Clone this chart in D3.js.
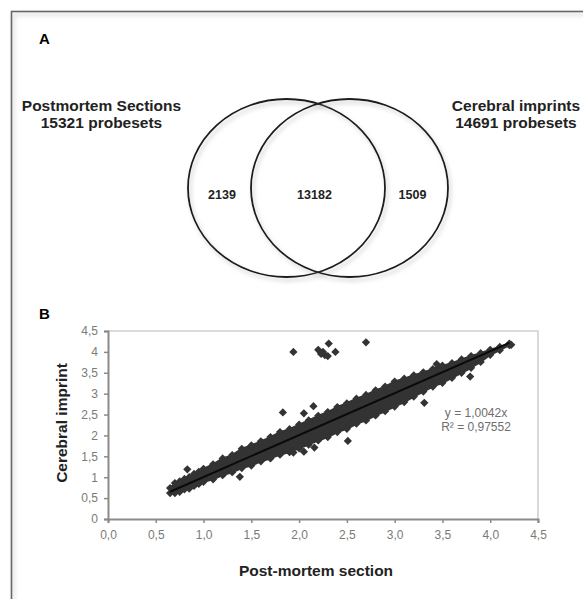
<!DOCTYPE html>
<html>
<head>
<meta charset="utf-8">
<script src="https://cdn.jsdelivr.net/npm/d3@7"></script>
<style>
  body { margin: 0; background: #fff; }
  text { font-family: "Liberation Sans", Arial, sans-serif; }
</style>
</head>
<body>
<div id="chart"></div>
<script>
// Venn data
var vennNames = ["Postmortem Sections", "Cerebral imprints"];
var vennTotals = ["15321 probesets", "14691 probesets"];
var vennCounts = [2139, 13182, 1509];   // only left, both, only right

// scatter: axis ticks
var xTicks = [0, 0.5, 1, 1.5, 2, 2.5, 3, 3.5, 4, 4.5];
var xTickLabels = ["0,0", "0,5", "1,0", "1,5", "2,0", "2,5", "3,0", "3,5", "4,0", "4,5"];
var yTicks = [0, 0.5, 1, 1.5, 2, 2.5, 3, 3.5, 4, 4.5];
var yTickLabels = ["0", "0,5", "1", "1,5", "2", "2,5", "3", "3,5", "4", "4,5"];

// dense cloud of probesets: upper / lower edge of the band
var bandX = [0.65, 0.7, 0.75, 0.8, 0.85, 0.9, 0.95, 1.0, 1.1, 1.2, 1.3, 1.4, 1.5, 1.6, 1.7, 1.8, 1.9, 2.0, 2.1, 2.2,
             2.3, 2.4, 2.5, 2.6, 2.7, 2.8, 2.9, 3.0, 3.1, 3.2, 3.3, 3.4, 3.5, 3.6, 3.7, 3.8, 3.9, 4.0, 4.1, 4.2];
var bandUpper = [0.74, 0.86, 0.90, 0.96, 1.00, 1.08, 1.13, 1.20, 1.31, 1.45, 1.53, 1.68, 1.76, 1.86, 1.96, 2.08, 2.15, 2.26, 2.36, 2.47,
                 2.56, 2.68, 2.77, 2.88, 2.97, 3.08, 3.17, 3.29, 3.36, 3.44, 3.51, 3.59, 3.67, 3.73, 3.82, 3.90, 3.97, 4.05, 4.12, 4.20];
var bandLower = [0.62, 0.62, 0.65, 0.71, 0.73, 0.79, 0.84, 0.89, 0.95, 1.05, 1.12, 1.22, 1.28, 1.38, 1.45, 1.54, 1.60, 1.69, 1.78, 1.88,
                 1.96, 2.08, 2.16, 2.28, 2.36, 2.48, 2.58, 2.69, 2.80, 2.93, 3.05, 3.17, 3.26, 3.38, 3.50, 3.62, 3.76, 3.93, 4.04, 4.16];

// single points away from the band
var outX = [1.94, 2.20, 2.23, 2.27, 2.30, 2.25, 2.31, 2.38, 2.70, 3.79, 3.31, 2.51, 1.83, 2.15, 2.05, 1.38, 0.83, 3.44, 2.16, 2.05, 1.94, 4.22];
var outY = [4.00, 4.05, 3.95, 3.92, 3.90, 4.00, 4.20, 4.00, 4.23, 3.41, 2.78, 1.87, 2.55, 2.70, 2.53, 1.01, 1.19, 3.71, 1.71, 1.61, 1.59, 4.17];

// linear trend through origin
var slope = 1.0042;
var trendX = [0.65, 4.2];
var eqLines = ["y = 1,0042x", "R\u00b2 = 0,97552"];

var svg = d3.select("#chart")
    .append("svg")
    .attr("width", 583)
    .attr("height", 599);

var defs = svg.append("defs");
var shadow = defs.append("filter").attr("id", "shadow")
    .attr("x", "-20%").attr("y", "-20%").attr("width", "140%").attr("height", "140%");
shadow.append("feDropShadow")
    .attr("dx", 2).attr("dy", 3).attr("stdDeviation", 2)
    .attr("flood-color", "#999").attr("flood-opacity", 0.55);

// outer frame (only top and left visible)
svg.append("rect")
    .attr("x", 11.5).attr("y", 11.5)
    .attr("width", 640).attr("height", 640)
    .attr("fill", "none")
    .attr("stroke", "#666")
    .attr("stroke-width", 1.6)
    .attr("filter", "url(#shadow)");

svg.append("text").attr("x", 39).attr("y", 44)
    .style("font-size", "15px").style("font-weight", "bold").text("A");
svg.append("text").attr("x", 39).attr("y", 319)
    .style("font-size", "15px").style("font-weight", "bold").text("B");

// ---------- A: Venn ----------
var venn = svg.append("g");
var cy = 188, rx = 98.5, ry = 89;
var cxs = [286.5, 349.5];

venn.selectAll("ellipse")
    .data(vennNames)
    .enter().append("ellipse")
    .attr("cx", function (d, i) { return cxs[i]; })
    .attr("cy", cy)
    .attr("rx", rx)
    .attr("ry", ry)
    .attr("fill", "none")
    .attr("stroke", "#1a1a1a")
    .attr("stroke-width", 1.8)
    .attr("filter", "url(#shadow)");

var countX = [222, 314.5, 412.5];
venn.selectAll(".count")
    .data(vennCounts)
    .enter().append("text")
    .attr("class", "count")
    .attr("x", function (d, i) { return countX[i]; })
    .attr("y", 198.5)
    .attr("text-anchor", "middle")
    .style("font-size", "12.5px")
    .style("font-weight", "bold")
    .style("fill", "#222")
    .text(function (d) { return d; });

var labelX = [101.5, 516];
vennNames.forEach(function (name, i) {
    var t = venn.append("text")
        .attr("text-anchor", "middle")
        .style("font-size", "15.5px")
        .style("font-weight", "bold")
        .style("fill", "#222");
    t.append("tspan").attr("x", labelX[i]).attr("y", 111).text(name);
    t.append("tspan").attr("x", labelX[i]).attr("y", 128).text(vennTotals[i]);
});

// ---------- B: scatter ----------
var x = d3.scaleLinear().domain([0, 4.5]).range([108, 538]);
var y = d3.scaleLinear().domain([0, 4.5]).range([519, 331]);

var plot = svg.append("g");

// light frame on top / right
plot.append("path")
    .attr("d", "M" + x(0) + "," + y(4.5) + "H" + x(4.5) + "V" + y(0))
    .attr("fill", "none")
    .attr("stroke", "#cfcfcf")
    .attr("stroke-width", 1.6);

var xAxis = d3.axisBottom(x)
    .tickValues(xTicks)
    .tickFormat(function (d, i) { return xTickLabels[i]; })
    .tickSize(4).tickPadding(7);
var yAxis = d3.axisLeft(y)
    .tickValues(yTicks)
    .tickFormat(function (d, i) { return yTickLabels[i]; })
    .tickSize(4).tickPadding(6);

var gx = plot.append("g").attr("transform", "translate(0," + y(0) + ")").call(xAxis);
var gy = plot.append("g").attr("transform", "translate(" + x(0) + ",0)").call(yAxis);
[gx, gy].forEach(function (g) {
    g.select(".domain").attr("stroke", "#8a8a8a").attr("stroke-width", 2);
    g.selectAll(".tick line").attr("stroke", "#8a8a8a").attr("stroke-width", 1.5);
    g.selectAll(".tick text")
        .style("font-family", "'Liberation Sans', Arial, sans-serif")
        .style("font-size", "12px")
        .style("fill", "#7a7a7a");
});

var band = bandX.map(function (v, i) { return { x: v, hi: bandUpper[i], lo: bandLower[i] }; });
var bandColor = "#333";

var area = d3.area()
    .x(function (d) { return x(d.x); })
    .y0(function (d) { return y(d.lo); })
    .y1(function (d) { return y(d.hi); });

plot.append("path")
    .datum(band)
    .attr("d", area)
    .attr("fill", bandColor)
    .attr("stroke", bandColor)
    .attr("stroke-width", 2)
    .attr("stroke-linejoin", "round");

var diamond = d3.symbol().type(d3.symbolSquare).size(34);
var edgePts = [];
band.forEach(function (d) {
    edgePts.push({ x: d.x, y: d.hi });
    edgePts.push({ x: d.x, y: d.lo });
});
outX.forEach(function (v, i) { edgePts.push({ x: v, y: outY[i] }); });

plot.selectAll(".pt")
    .data(edgePts)
    .enter().append("path")
    .attr("class", "pt")
    .attr("d", diamond)
    .attr("transform", function (d) { return "translate(" + x(d.x) + "," + y(d.y) + ") rotate(45)"; })
    .attr("fill", bandColor);

var line = d3.line()
    .x(function (d) { return x(d); })
    .y(function (d) { return y(d * slope); });

plot.append("path")
    .datum(trendX)
    .attr("d", line)
    .attr("fill", "none")
    .attr("stroke", "#0a0a0a")
    .attr("stroke-width", 2);

plot.selectAll(".eq")
    .data(eqLines)
    .enter().append("text")
    .attr("class", "eq")
    .attr("x", 476)
    .attr("y", function (d, i) { return 417 + i * 14; })
    .attr("text-anchor", "middle")
    .style("font-size", "12px")
    .style("fill", "#6e6e6e")
    .text(function (d) { return d; });

plot.append("text")
    .attr("x", 316)
    .attr("y", 576)
    .attr("text-anchor", "middle")
    .style("font-size", "15.5px")
    .style("font-weight", "bold")
    .style("fill", "#222")
    .text("Post-mortem section");

plot.append("text")
    .attr("transform", "translate(67,423) rotate(-90)")
    .attr("text-anchor", "middle")
    .style("font-size", "15.5px")
    .style("font-weight", "bold")
    .style("fill", "#222")
    .text("Cerebral imprint");
</script>
</body>
</html>
